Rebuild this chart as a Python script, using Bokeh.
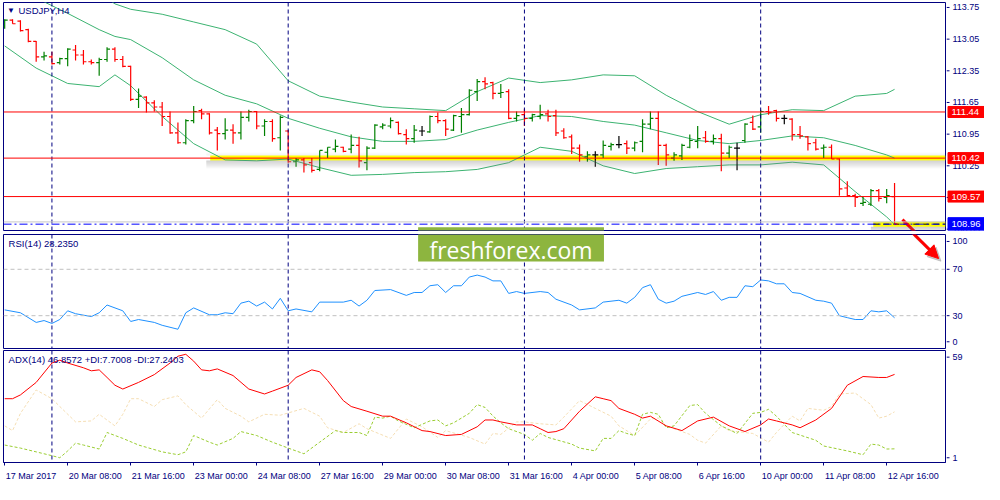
from bokeh.plotting import figure
from bokeh.layouts import column, row
from bokeh.models import (Range1d, FixedTicker, Span, Label, BoxAnnotation,
                          Arrow, NormalHead, ColumnDataSource)
from bokeh.core.properties import value
from bokeh.embed import file_html
from bokeh.resources import INLINE

FONT = "Liberation Sans"
NAVY = "#000080"

# ---------------- data ----------------
tick_idx = [0, 8, 16, 24, 32, 40, 48, 56, 64, 72, 80, 88, 96, 104, 112]
tick_labels = ["17 Mar 2017", "20 Mar 08:00", "21 Mar 16:00", "23 Mar 00:00",
               "24 Mar 08:00", "27 Mar 16:00", "29 Mar 00:00", "30 Mar 08:00",
               "31 Mar 16:00", "4 Apr 00:00", "5 Apr 08:00", "6 Apr 16:00",
               "10 Apr 00:00", "11 Apr 08:00", "12 Apr 16:00"]
week_sep = [6, 36, 66, 96]

opens = [113.34, 113.47, 113.45, 113.26, 113.00, 112.66, 112.66, 112.53, 112.62, 112.81,
         112.70, 112.55, 112.53, 112.60, 112.83, 112.60, 112.45, 111.72, 111.77, 111.64,
         111.55, 111.34, 110.98, 110.76, 111.25, 111.47, 111.40, 111.04, 110.96, 111.04,
         110.98, 111.32, 111.45, 111.13, 111.23, 110.87, 111.02, 110.34, 110.38, 110.32,
         110.17, 110.55, 110.62, 110.66, 110.62, 110.70, 110.32, 110.64, 111.11, 111.13,
         111.21, 110.94, 110.85, 111.02, 111.00, 111.34, 111.25, 111.04, 111.34, 111.38,
         111.89, 112.11, 112.09, 111.85, 111.89, 111.30, 111.38, 111.30, 111.34, 111.40,
         111.36, 111.02, 110.89, 110.64, 110.45, 110.49, 110.49, 110.68, 110.72, 110.74,
         110.64, 110.79, 111.17, 111.30, 110.70, 110.42, 110.47, 110.66, 110.79, 110.87,
         110.79, 110.85, 110.53, 110.64, 110.81, 111.21, 111.11, 111.45, 111.47, 111.30,
         111.28, 110.94, 110.89, 110.76, 110.64, 110.66, 110.40, 109.76, 109.59, 109.42,
         109.40, 109.70, 109.55, 109.57]
highs = [113.49, 113.49, 113.47, 113.28, 113.01, 112.77, 112.77, 112.64, 112.85, 112.92,
         112.81, 112.60, 112.64, 112.87, 112.87, 112.68, 112.46, 111.96, 111.79, 111.70,
         111.66, 111.45, 111.21, 111.28, 111.57, 111.51, 111.41, 111.11, 111.30, 111.17,
         111.45, 111.49, 111.46, 111.28, 111.28, 111.36, 111.04, 110.42, 110.42, 110.42,
         110.59, 110.66, 110.83, 110.67, 110.94, 110.89, 110.68, 111.17, 111.19, 111.32,
         111.23, 111.06, 111.15, 111.13, 111.36, 111.43, 111.28, 111.38, 111.53, 111.94,
         112.17, 112.21, 112.11, 112.06, 111.94, 111.45, 111.51, 111.40, 111.60, 111.49,
         111.49, 111.08, 110.94, 110.72, 110.57, 110.57, 110.81, 110.76, 110.91, 110.81,
         110.79, 111.28, 111.45, 111.45, 110.74, 110.55, 110.74, 110.94, 111.13, 111.02,
         110.94, 110.96, 110.70, 110.76, 111.19, 111.36, 111.49, 111.57, 111.49, 111.38,
         111.30, 111.13, 110.91, 110.85, 110.72, 110.72, 110.41, 109.91, 109.63, 109.57,
         109.74, 109.74, 109.74, 109.87]
lows = [113.28, 113.39, 113.22, 112.98, 112.55, 112.58, 112.49, 112.49, 112.45, 112.58,
        112.49, 112.49, 112.24, 112.55, 112.55, 112.43, 111.68, 111.53, 111.43, 111.45,
        111.13, 110.96, 110.74, 110.72, 111.19, 111.28, 110.94, 110.59, 110.83, 110.74,
        110.83, 111.23, 111.06, 110.91, 110.78, 110.59, 110.32, 110.23, 110.10, 110.10,
        110.13, 110.42, 110.55, 110.55, 110.53, 110.21, 110.15, 110.62, 111.06, 111.08,
        110.94, 110.72, 110.76, 110.91, 110.98, 111.19, 110.91, 111.02, 110.98, 111.36,
        111.68, 111.94, 111.72, 111.75, 111.28, 111.23, 111.13, 111.23, 111.28, 111.23,
        110.91, 110.85, 110.51, 110.34, 110.34, 110.23, 110.42, 110.59, 110.64, 110.51,
        110.57, 110.55, 111.06, 110.27, 110.25, 110.36, 110.38, 110.64, 110.64, 110.76,
        110.72, 110.13, 110.42, 110.15, 110.76, 111.04, 110.98, 111.38, 111.23, 111.17,
        110.81, 110.85, 110.59, 110.59, 110.42, 110.40, 109.59, 109.57, 109.34, 109.36,
        109.36, 109.46, 109.42, 108.95]
closes = [113.47, 113.39, 113.24, 113.00, 112.66, 112.68, 112.51, 112.62, 112.83, 112.70,
          112.55, 112.53, 112.60, 112.83, 112.60, 112.45, 111.72, 111.79, 111.64, 111.55,
          111.34, 110.98, 110.76, 111.25, 111.45, 111.40, 110.98, 110.96, 111.04, 110.98,
          111.32, 111.45, 111.13, 111.23, 110.85, 111.32, 110.34, 110.38, 110.27, 110.15,
          110.59, 110.66, 110.68, 110.57, 110.70, 110.36, 110.64, 111.15, 111.15, 111.25,
          110.96, 110.85, 111.04, 111.02, 111.34, 111.25, 111.06, 111.36, 111.38, 111.92,
          112.11, 112.06, 111.85, 111.87, 111.30, 111.36, 111.30, 111.38, 111.38, 111.34,
          110.98, 110.87, 110.64, 110.49, 110.49, 110.49, 110.70, 110.72, 110.72, 110.64,
          110.76, 111.17, 111.30, 110.70, 110.49, 110.49, 110.70, 110.81, 110.85, 110.79,
          110.85, 110.53, 110.66, 110.64, 111.17, 111.06, 111.45, 111.43, 111.30, 111.30,
          110.94, 110.91, 110.74, 110.62, 110.66, 110.40, 109.74, 109.59, 109.55, 109.44,
          109.70, 109.53, 109.59, 108.96]

bb_idx = [0, 4, 8, 12, 14, 16, 20, 24, 28, 32, 36, 40, 44, 48, 52, 56, 60, 64, 68, 72,
          76, 80, 84, 88, 92, 96, 100, 104, 108, 112, 113]
bb_upper = [115.82, 115.39, 114.75, 114.07, 113.83, 113.71, 113.60, 113.43, 113.26, 112.94,
            112.13, 111.79, 111.66, 111.55, 111.51, 111.47, 111.89, 112.19, 112.09, 112.15,
            112.26, 112.24, 111.81, 111.45, 111.17, 111.38, 111.49, 111.47, 111.79, 111.85,
            111.94]
bb_middle = [114.37, 113.96, 113.62, 113.26, 113.11, 113.04, 112.64, 112.15, 111.81, 111.62,
             111.30, 111.08, 110.89, 110.79, 110.79, 110.83, 111.04, 111.21, 111.36, 111.34,
             111.23, 111.15, 110.98, 110.81, 110.74, 110.81, 110.91, 110.87, 110.70, 110.49,
             110.42]
bb_lower = [112.90, 112.41, 112.07, 112.00, 112.26, 112.02, 111.34, 110.74, 110.38, 110.36,
            110.40, 110.21, 110.04, 110.06, 110.10, 110.12, 110.17, 110.32, 110.66, 110.57,
            110.25, 110.08, 110.19, 110.23, 110.27, 110.27, 110.33, 110.27, 109.68, 109.12,
            108.95]

red_levels = [111.44, 110.42, 109.57]
bid_level = 108.96
ask_level = 109.01
price_ticks = [108.85, 109.55, 110.25, 110.95, 111.65, 112.35, 113.05, 113.75]
highlight_start = 26.1
bid_highlight_start = 110.3

rsi_idx = [0, 2, 4, 5, 6, 7, 8, 9, 11, 12, 13, 15, 16, 17, 19, 20, 22, 23, 24, 26,
           27, 28, 29, 30, 31, 32, 33, 34, 35, 36, 37, 39, 40, 43, 44, 45, 46, 47, 49, 51,
           52, 53, 54, 55, 56, 57, 58, 59, 60, 61, 62, 63, 64, 65, 66, 68, 69, 70, 72, 73,
           75, 76, 78, 79, 80, 81, 82, 83, 84, 85, 86, 88, 89, 90, 91, 92, 93, 94, 95, 96,
           97, 98, 99, 100, 101, 103, 104, 105, 106, 107, 108, 109, 110, 111, 112, 113]
rsi_val = [35.0, 32.5, 24.2, 25.8, 23.3, 26.7, 34.2, 31.7, 29.2, 32.5,
           39.2, 34.2, 25.0, 26.7, 24.2, 21.7, 18.3, 32.5, 36.7, 30.8,
           30.8, 32.5, 31.7, 40.8, 42.5, 38.3, 41.7, 35.8, 45.0, 34.2,
           35.8, 33.3, 41.7, 41.7, 43.3, 38.3, 43.3, 51.7, 52.5, 47.5,
           50.0, 50.0, 55.8, 56.7, 50.0, 55.8, 55.8, 63.3, 65.0, 63.3,
           60.0, 60.0, 49.2, 50.8, 49.2, 50.8, 50.0, 44.2, 39.2, 35.0,
           36.7, 41.7, 43.3, 40.8, 45.8, 54.2, 56.7, 44.2, 40.8, 42.5,
           46.7, 50.0, 48.3, 50.8, 43.3, 45.8, 45.8, 55.8, 55.0, 60.8,
           60.0, 57.5, 57.5, 50.0, 49.2, 43.3, 42.5, 40.8, 30.0, 28.3,
           26.7, 26.7, 34.2, 33.3, 34.2, 28.2]
rsi_levels = [30, 70]
rsi_ticks = [7.5, 30, 70, 94]
rsi_tick_labels = ["0", "30", "70", "100"]

adx_idx = [0, 1, 2, 4, 6, 7, 8, 10, 11, 12, 13, 14, 15, 17, 19, 21, 22, 23, 24, 25,
           26, 27, 29, 31, 33, 34, 36, 37, 39, 40, 41, 43, 44, 46, 48, 49, 51, 53, 54, 56,
           58, 60, 61, 62, 63, 65, 66, 67, 68, 69, 70, 71, 73, 75, 76, 77, 78, 80, 81, 82,
           84, 86, 88, 90, 92, 93, 94, 96, 97, 98, 100, 101, 103, 105, 107, 109, 111, 112, 113]
adx_val = [34.1, 34.1, 36.1, 42.7, 52.9, 54.4, 52.9, 50.4, 48.8, 49.3,
           45.3, 41.2, 39.2, 42.7, 46.8, 52.9, 56.5, 57.5, 53.9, 49.3,
           48.8, 49.8, 46.3, 39.2, 36.6, 38.1, 41.2, 45.3, 49.3, 48.3,
           43.7, 33.1, 30.0, 27.5, 24.9, 24.9, 21.4, 17.3, 16.8, 14.7,
           15.3, 19.3, 22.9, 22.9, 21.9, 20.3, 20.3, 20.3, 18.3, 16.3,
           16.8, 18.3, 27.5, 35.1, 34.1, 33.1, 29.0, 25.9, 23.9, 24.9,
           19.8, 17.3, 22.4, 24.4, 19.8, 18.3, 16.8, 20.3, 23.4, 22.4,
           20.3, 18.8, 22.9, 29.0, 41.2, 45.8, 45.3, 45.3, 46.9]
pdi_idx = [0, 2, 4, 6, 7, 8, 9, 10, 12, 13, 15, 17, 20, 22, 23, 24, 26, 27, 29, 30,
           32, 34, 36, 38, 40, 42, 43, 45, 46, 47, 48, 49, 50, 52, 54, 55, 56, 57, 59, 60,
           61, 62, 63, 64, 66, 67, 68, 69, 72, 73, 75, 76, 77, 78, 79, 80, 81, 82, 83, 84,
           85, 87, 88, 89, 91, 93, 95, 96, 97, 98, 100, 103, 104, 107, 109, 110, 111, 112, 113]
pdi_val = [9.7, 8.1, 6.1, 4.1, 3.0, 6.6, 10.7, 9.7, 7.6, 16.3,
           13.2, 9.7, 6.1, 4.6, 6.1, 14.7, 11.2, 9.7, 13.2, 16.8,
           14.7, 11.2, 8.1, 5.1, 11.2, 17.3, 16.3, 16.3, 14.7, 24.4,
           23.9, 24.9, 22.4, 18.8, 22.4, 22.9, 19.8, 21.4, 26.4, 31.0,
           29.5, 25.0, 21.4, 18.3, 15.3, 12.2, 15.8, 13.7, 10.2, 8.1,
           6.6, 13.2, 13.2, 17.3, 15.8, 14.7, 25.9, 26.9, 25.9, 18.8,
           19.8, 30.5, 31.0, 26.4, 19.8, 15.8, 26.4, 26.9, 28.5, 24.9,
           16.3, 12.2, 9.2, 6.6, 4.6, 10.2, 9.7, 7.6, 7.7]
mdi_idx = [0, 1, 2, 4, 6, 7, 9, 11, 12, 14, 15, 16, 17, 19, 20, 22, 23, 25, 27, 28,
           30, 31, 33, 35, 38, 40, 41, 43, 45, 46, 49, 51, 53, 55, 56, 59, 61, 62, 63, 65,
           66, 68, 70, 71, 73, 75, 77, 78, 80, 82, 83, 84, 87, 88, 89, 91, 92, 95, 97, 98,
           100, 101, 102, 104, 105, 106, 108, 110, 111, 112, 113]
mdi_val = [19.8, 17.3, 26.4, 38.7, 34.1, 30.0, 21.9, 22.4, 25.9, 19.8,
           25.9, 34.1, 34.1, 30.0, 33.6, 35.6, 31.0, 23.9, 33.6, 29.0,
           24.9, 21.9, 25.9, 25.4, 29.0, 24.9, 18.8, 16.3, 20.9, 18.3,
           13.2, 23.4, 19.3, 13.7, 17.3, 13.7, 10.2, 15.8, 15.3, 21.9,
           21.9, 20.9, 20.3, 24.4, 33.1, 29.0, 24.9, 19.8, 14.7, 23.4,
           23.9, 19.8, 15.3, 12.2, 10.7, 19.8, 17.3, 15.8, 11.2, 16.3,
           24.9, 22.4, 29.0, 28.0, 30.0, 36.6, 37.1, 31.0, 23.9, 24.9,
           27.2]
adx_ticks = [3, 56]
adx_tick_labels = ["1", "59"]

# ---------------- layout ----------------
FRAME_W = 942
STRIP_W = 38
X0, X1 = -0.15, 119.47
PX_PER_BAR = FRAME_W / (X1 - X0)
xr = Range1d(X0, X1)


def make_fig(frame_h, yr, top, bottom, with_x=False):
    p = figure(frame_width=FRAME_W, frame_height=frame_h, x_range=xr, y_range=yr,
               x_axis_location="below" if with_x else None, y_axis_location=None,
               toolbar_location=None, output_backend="svg",
               min_border_left=3, min_border_right=1,
               min_border_top=top, min_border_bottom=bottom,
               background_fill_color="white", border_fill_color="white")
    p.outline_line_color = NAVY
    p.outline_line_width = 1
    p.grid.visible = False
    for s in week_sep:
        p.add_layout(Span(location=s, dimension="height", line_color=NAVY,
                          line_dash="4 3", line_width=1))
    return p


def make_strip(frame_h, yr, top, bottom, ticks, labels):
    """Price scale to the right of a panel: tick marks, tick labels and price tags."""
    s = figure(frame_width=STRIP_W, frame_height=frame_h, x_range=Range1d(0, STRIP_W),
               y_range=yr, x_axis_location=None, y_axis_location=None,
               toolbar_location=None, output_backend="svg",
               min_border_left=0, min_border_right=0,
               min_border_top=top, min_border_bottom=bottom,
               background_fill_color="white", border_fill_color="white")
    s.outline_line_color = None
    s.grid.visible = False
    s.segment(x0=[0] * len(ticks), y0=ticks, x1=[3] * len(ticks), y1=ticks,
              line_color=NAVY, line_width=1)
    s.text(x=[6] * len(ticks), y=ticks, text=labels, text_font=value(FONT),
           text_font_size="9px", text_color=NAVY, text_baseline="middle",
           text_align="left")
    return s


def add_tags(s, levels, color, h):
    s.rect(x=[19.5] * len(levels), y=levels, width=36, height=h,
           width_units="data", height_units="screen", fill_color=color,
           line_color=color)
    s.text(x=[5] * len(levels), y=levels, text=[f"{v:.2f}" for v in levels],
           text_font=value(FONT), text_font_size="9.5px", text_color="white",
           text_baseline="middle", text_align="left")


# ---------- main price panel ----------
yr1 = Range1d(108.82, 113.86)
p1 = make_fig(228, yr1, 2, 2)
px = 0.0221  # one screen pixel in price units (decorations only)

for k in range(1, 9):
    p1.add_layout(BoxAnnotation(left=highlight_start - 0.5, right=X1,
                                bottom=red_levels[1] - px * (2.5 + k),
                                top=red_levels[1] - px * 2.5,
                                fill_color="#808080", fill_alpha=0.05, line_color=None))
for k in range(1, 4):
    p1.add_layout(BoxAnnotation(left=highlight_start - 0.5, right=X1,
                                bottom=red_levels[1] + px * 2.5,
                                top=red_levels[1] + px * (2.5 + k),
                                fill_color="#808080", fill_alpha=0.03, line_color=None))
for k in range(1, 7):
    p1.add_layout(BoxAnnotation(left=bid_highlight_start - 0.3, right=X1,
                                bottom=bid_level - px * (2.5 + k),
                                top=bid_level - px * 2.5,
                                fill_color="#808080", fill_alpha=0.07, line_color=None))

p1.segment(x0=[highlight_start], y0=[red_levels[1]], x1=[X1], y1=[red_levels[1]],
           line_color="#FFFF00", line_width=5)
p1.segment(x0=[bid_highlight_start], y0=[bid_level], x1=[X1], y1=[bid_level],
           line_color="#FFFF00", line_width=5)

for lv in red_levels:
    p1.add_layout(Span(location=lv, dimension="width", line_color="#FF0000", line_width=1))
p1.add_layout(Span(location=ask_level, dimension="width", line_color="#C8C8C8", line_width=1))
p1.add_layout(Span(location=bid_level, dimension="width", line_color="#0000FF",
                   line_width=1, line_dash="8 3 2 3"))
p1.segment(x0=[bid_highlight_start], y0=[bid_level], x1=[X1], y1=[bid_level],
           line_color="black", line_width=1, line_dash="6 4")

for band in (bb_upper, bb_middle, bb_lower):
    p1.line(bb_idx, band, line_color="#3CB371", line_width=1)

idx = list(range(len(opens)))
cols = ["#008000" if c > o else ("#FF0000" if c < o else "#000000")
        for o, c in zip(opens, closes)]
src = ColumnDataSource(dict(x=idx, o=opens, h=highs, l=lows, c=closes, col=cols,
                            xl=[i - 0.38 for i in idx], xr=[i + 0.38 for i in idx]))
p1.segment("x", "h", "x", "l", source=src, line_color="col", line_width=1.2)
p1.segment("xl", "o", "x", "o", source=src, line_color="col", line_width=1.2)
p1.segment("x", "c", "xr", "c", source=src, line_color="col", line_width=1.2)

p1.segment(x0=[114.0], y0=[109.06], x1=[116.0], y1=[108.72], line_color="#FF0000", line_width=3)

p1.add_layout(BoxAnnotation(left=52.5, right=76.1, bottom=108.0, top=108.89,
                            fill_color="#8DB53F", fill_alpha=1, line_color=None))

p1.add_layout(Label(x=0.3, y=113.685, text="▼", text_color=NAVY, text_font=FONT,
                    text_font_size="8px", text_baseline="middle"))
p1.add_layout(Label(x=1.75, y=113.685, text="USDJPY,H4", text_color=NAVY, text_font=FONT,
                    text_font_size="9.5px", text_baseline="middle"))

s1 = make_strip(228, yr1, 2, 2, price_ticks, [f"{t:.2f}" for t in price_ticks])
add_tags(s1, red_levels, "#FF0000", 11)
add_tags(s1, [bid_level], "#0000FF", 13)

# ---------- RSI panel ----------
yr2 = Range1d(1.7, 100)
p2 = make_fig(114, yr2, 2, 1)
for lv in rsi_levels:
    p2.add_layout(Span(location=lv, dimension="width", line_color="#C0C0C0",
                       line_dash="4 3", line_width=1))
p2.line(rsi_idx, rsi_val, line_color="#1E90FF", line_width=1)
p2.add_layout(Label(x=0.5, y=92.5, text="RSI(14) 28.2350", text_color=NAVY,
                    text_font=FONT, text_font_size="9.5px", text_baseline="middle"))
p2.add_layout(BoxAnnotation(left=52.5, right=76.1, bottom=76.7, top=110,
                            fill_color="#8DB53F", fill_alpha=1, line_color=None))
p2.add_layout(Label(x=64.3, y=87.0, text="freshforex.com", text_color="white",
                    text_font="Open Sans", text_font_size="23px", text_align="center",
                    text_baseline="middle"))
p2.add_layout(Arrow(end=NormalHead(size=13, fill_color="#A0A0A0", line_color="#A0A0A0",
                                   fill_alpha=0.5, line_alpha=0.5),
                    x_start=115.6, y_start=99.0, x_end=118.9, y_end=77.0,
                    line_color="#A0A0A0", line_alpha=0.5, line_width=3))
p2.add_layout(Arrow(end=NormalHead(size=13, fill_color="#FF0000", line_color="#FF0000"),
                    x_start=115.25, y_start=101.7, x_end=118.6, y_end=79.2,
                    line_color="#FF0000", line_width=3))
s2 = make_strip(114, yr2, 2, 1, rsi_ticks, rsi_tick_labels)

# ---------- ADX panel ----------
yr3 = Range1d(0.5, 59.5)
p3 = make_fig(112, yr3, 1, 21, with_x=True)
p3.line(mdi_idx, mdi_val, line_color="#F5DEB3", line_width=1, line_dash="3 2")
p3.line(pdi_idx, pdi_val, line_color="#9ACD32", line_width=1, line_dash="3 2")
p3.line(adx_idx, adx_val, line_color="#FF0000", line_width=1)
p3.add_layout(Label(x=0.5, y=54.9, text="ADX(14) 46.8572 +DI:7.7008 -DI:27.2403",
                    text_color=NAVY, text_font=FONT, text_font_size="9.5px",
                    text_baseline="middle"))
s3 = make_strip(112, yr3, 1, 21, adx_ticks, adx_tick_labels)

# x axis: MT4 puts each date label to the right of its tick mark
CW = {" ": 0.278, ":": 0.278, "M": 0.833, "a": 0.556, "r": 0.333, "A": 0.667, "p": 0.556}
XFS = 9


def text_w(s):
    return sum(CW.get(ch, 0.556) for ch in s) * XFS


label_pos = [round(t + (text_w(lab) / 2 + 1) / PX_PER_BAR, 4)
             for t, lab in zip(tick_idx, tick_labels)]
xa = p3.xaxis[0]
xa.ticker = FixedTicker(ticks=label_pos, minor_ticks=tick_idx)
xa.major_label_overrides = {pos: lab for pos, lab in zip(label_pos, tick_labels)}
xa.axis_line_color = NAVY
xa.major_tick_line_color = None
xa.major_tick_out = 0
xa.major_tick_in = 0
xa.minor_tick_line_color = NAVY
xa.minor_tick_out = 3
xa.minor_tick_in = 0
xa.major_label_text_font = FONT
xa.major_label_text_font_size = f"{XFS}px"
xa.major_label_text_color = NAVY
xa.major_label_standoff = 5

layout = column(row(p1, s1, spacing=0), row(p2, s2, spacing=0), row(p3, s3, spacing=0),
                spacing=0)
open("out.html", "w").write(file_html(layout, INLINE))
